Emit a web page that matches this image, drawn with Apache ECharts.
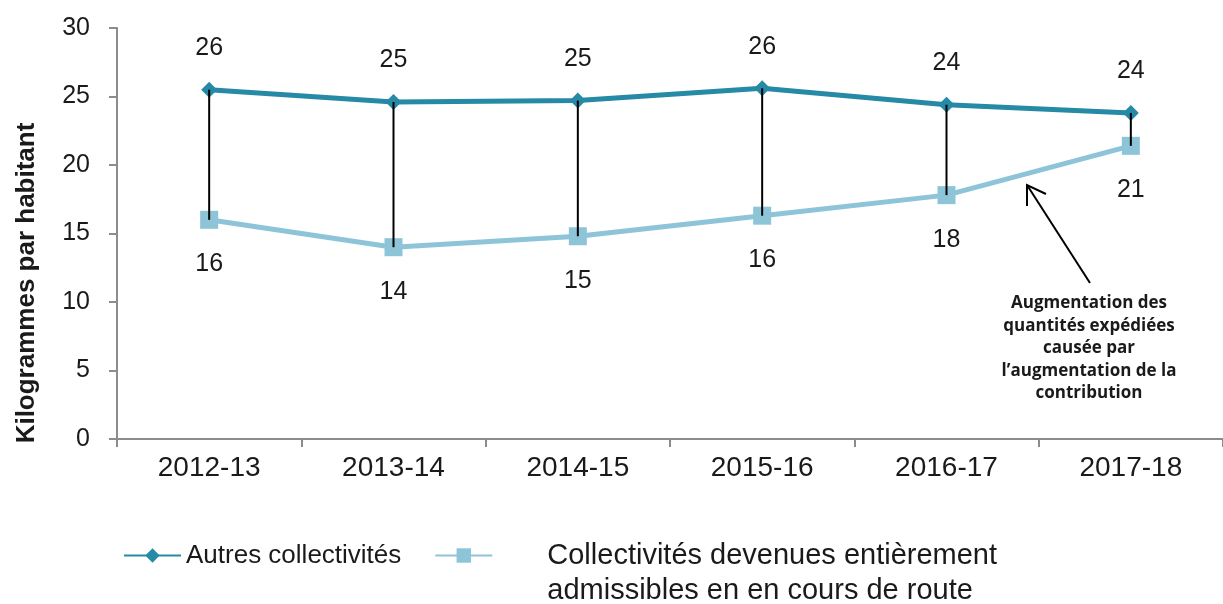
<!DOCTYPE html>
<html>
<head>
<meta charset="utf-8">
<script src="https://cdn.jsdelivr.net/npm/echarts@6/dist/echarts.min.js"></script>
<style>
  html, body { margin: 0; padding: 0; background: #fff; }
  #chart { width: 1223px; height: 604px; }
</style>
</head>
<body>
<div id="chart"></div>
<script>
const years = ['2012-13', '2013-14', '2014-15', '2015-16', '2016-17', '2017-18']
const autres = [25.5, 24.6, 24.7, 25.6, 24.4, 23.8]
const devenues = [16.0, 14.0, 14.8, 16.3, 17.8, 21.4]
const yTicks = [0, 5, 10, 15, 20, 25, 30]

const nameAutres = 'Autres collectivités'
const nameDevenues = 'Collectivités devenues entièrement admissibles en en cours de route'

const FONT = '"Liberation Sans", Arial, sans-serif'
const darkColor = '#2689a5'
const lightColor = '#8dc4d8'

const chart = echarts.init(document.getElementById('chart'))

const option = {
  backgroundColor: '#fff',
  animation: false,
  textStyle: { fontFamily: FONT },
  grid: { left: 117, top: 28, width: 1110, height: 411 },
  legend: {
    left: 123, top: 503, padding: 0,
    itemWidth: 57, itemHeight: 18, itemGap: 33,
    textStyle: { fontSize: 26, color: '#1a1a1a', lineHeight: 35, fontFamily: FONT },
    data: [
      { name: nameAutres },
      { name: nameDevenues, textStyle: { fontSize: 29, lineHeight: 35, padding: [0, 0, 0, 50] } }
    ],
    formatter: name => name === nameDevenues
      ? '\nCollectivités devenues entièrement\nadmissibles en en cours de route'
      : name
  },
  xAxis: {
    type: 'category',
    data: years,
    boundaryGap: true,
    axisLine: { lineStyle: { color: '#8c8c8c', width: 2 } },
    axisTick: { show: true, length: 8, lineStyle: { color: '#8c8c8c', width: 2 } },
    axisLabel: { fontSize: 28, color: '#1a1a1a', margin: 15 }
  },
  yAxis: {
    type: 'value',
    min: yTicks[0], max: yTicks[yTicks.length - 1], interval: 5,
    axisLine: { show: true, lineStyle: { color: '#8c8c8c', width: 2 } },
    axisTick: { show: true, length: 8, lineStyle: { color: '#8c8c8c', width: 2 } },
    axisLabel: { fontSize: 25, color: '#1a1a1a', margin: 27 },
    splitLine: { show: false }
  },
  series: [
    {
      name: nameAutres,
      type: 'line',
      data: autres,
      symbol: 'diamond',
      symbolSize: 16,
      color: darkColor,
      lineStyle: { color: darkColor, width: 5 },
      itemStyle: { color: darkColor },
      label: {
        show: true, position: 'top', distance: 21,
        fontSize: 25, color: '#1a1a1a',
        formatter: p => Math.round(p.value)
      },
      z: 3
    },
    {
      name: nameDevenues,
      type: 'line',
      data: devenues,
      symbol: 'rect',
      symbolSize: 18,
      color: lightColor,
      lineStyle: { color: lightColor, width: 5 },
      itemStyle: { color: lightColor },
      label: {
        show: true, position: 'bottom', distance: 23,
        fontSize: 25, color: '#1a1a1a',
        formatter: p => Math.round(p.value)
      },
      z: 2
    },
    {
      // lignes verticales entre les deux séries
      type: 'custom',
      data: years.map((y, i) => [i, autres[i], devenues[i]]),
      renderItem: (params, api) => {
        const top = api.coord([api.value(0), api.value(1)])
        const bot = api.coord([api.value(0), api.value(2)])
        return {
          type: 'line',
          shape: { x1: top[0], y1: top[1], x2: bot[0], y2: bot[1] },
          style: { stroke: '#000', lineWidth: 2 }
        }
      },
      z: 5,
      silent: true
    }
  ],
  graphic: [
    {
      type: 'text',
      x: 27, y: 283,
      rotation: Math.PI / 2,
      style: {
        text: 'Kilogrammes par habitant',
        font: 'bold 26px ' + FONT,
        fill: '#1a1a1a',
        align: 'center', verticalAlign: 'middle'
      }
    },
    {
      type: 'text',
      x: 1089, y: 292,
      style: {
        text: 'Augmentation des\nquantités expédiées\ncausée par\nl\u2019augmentation de la\ncontribution',
        font: 'bold 17px "Open Sans", sans-serif',
        lineHeight: 22.5,
        fill: '#1a1a1a',
        align: 'center', verticalAlign: 'top'
      }
    },
    {
      type: 'polyline',
      shape: { points: [[1090, 283], [1027, 185]] },
      style: { stroke: '#000', lineWidth: 2 }
    },
    {
      type: 'polyline',
      shape: { points: [[1027, 206], [1027, 185], [1046, 194]] },
      style: { stroke: '#000', lineWidth: 2, fill: null }
    }
  ]
}

chart.setOption(option)
</script>
</body>
</html>
